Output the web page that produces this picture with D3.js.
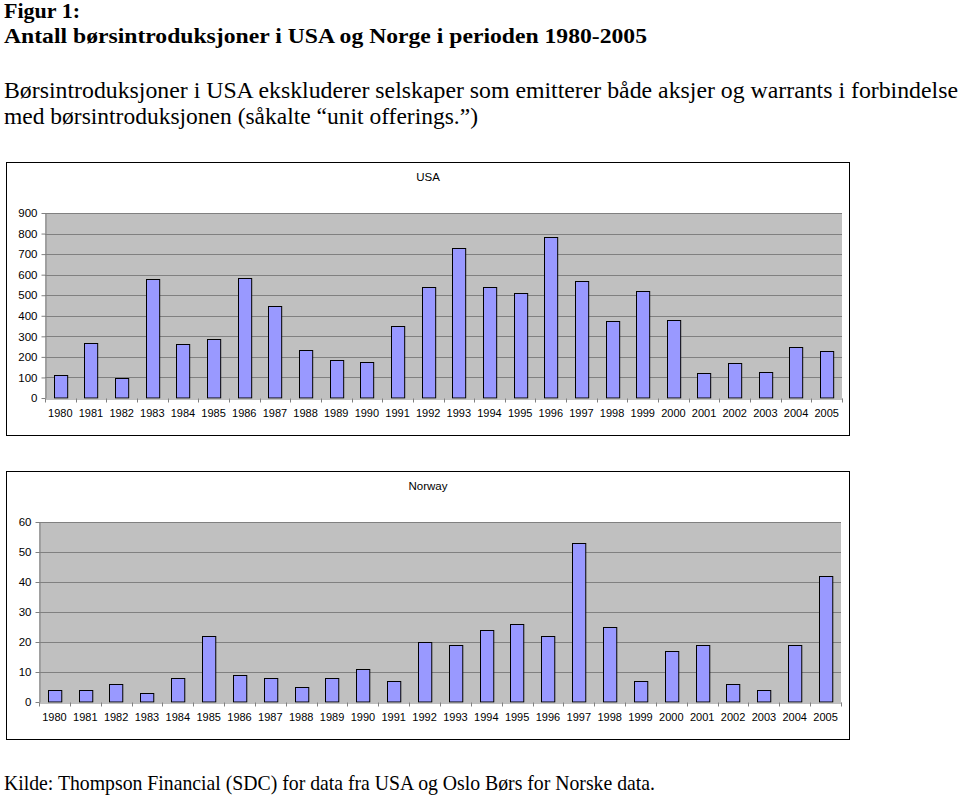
<!DOCTYPE html>
<html>
<head>
<meta charset="utf-8">
<script src="https://cdn.jsdelivr.net/npm/d3@7"></script>
<style>
  body { margin: 0; background: #fff; }
  svg { display: block; }
</style>
</head>
<body>
<script>
// data
const years = ["1980","1981","1982","1983","1984","1985","1986","1987","1988","1989","1990","1991","1992",
  "1993","1994","1995","1996","1997","1998","1999","2000","2001","2002","2003","2004","2005"];
const usaValues = [110, 269, 99, 577, 261, 287, 585, 449, 235, 185, 177, 349, 540,
  728, 540, 509, 785, 571, 373, 522, 378, 120, 169, 128, 247, 230];
const norwayValues = [4, 4, 6, 3, 8, 22, 9, 8, 5, 8, 11, 7, 20,
  19, 24, 26, 22, 53, 25, 7, 17, 19, 6, 4, 19, 42];
const usaTicks = [0, 100, 200, 300, 400, 500, 600, 700, 800, 900];
const norwayTicks = [0, 10, 20, 30, 40, 50, 60];

const svg = d3.select("body").append("svg")
  .attr("width", 960)
  .attr("height", 797);

// header text
const serif = "'Liberation Serif', 'Times New Roman', serif";
svg.append("text").attr("x", 4).attr("y", 18)
  .attr("font-family", serif).attr("font-weight", "bold").attr("font-size", 20.5)
  .attr("textLength", 76).attr("lengthAdjust", "spacingAndGlyphs")
  .text("Figur 1:");
svg.append("text").attr("x", 4).attr("y", 43)
  .attr("font-family", serif).attr("font-weight", "bold").attr("font-size", 22)
  .attr("textLength", 643).attr("lengthAdjust", "spacingAndGlyphs")
  .text("Antall børsintroduksjoner i USA og Norge i perioden 1980-2005");
svg.append("text").attr("x", 4).attr("y", 98)
  .attr("font-family", serif).attr("font-size", 22.5)
  .attr("textLength", 954).attr("lengthAdjust", "spacingAndGlyphs")
  .text("Børsintroduksjoner i USA ekskluderer  selskaper som emitterer både aksjer og warrants i forbindelse");
svg.append("text").attr("x", 4).attr("y", 124)
  .attr("font-family", serif).attr("font-size", 22.5)
  .attr("textLength", 474).attr("lengthAdjust", "spacingAndGlyphs")
  .text("med børsintroduksjonen (såkalte \u201cunit offerings.\u201d)");
svg.append("text").attr("x", 4).attr("y", 790)
  .attr("font-family", serif).attr("font-size", 21.5)
  .attr("textLength", 651).attr("lengthAdjust", "spacingAndGlyphs")
  .text("Kilde: Thompson Financial (SDC) for data fra USA og Oslo Børs for Norske data.");

function drawChart(opt) {
  const g = svg.append("g");
  const sans = "'Liberation Sans', Arial, sans-serif";

  // outer frame
  g.append("rect")
    .attr("x", opt.box[0] + 0.5).attr("y", opt.box[1] + 0.5)
    .attr("width", opt.box[2]).attr("height", opt.box[3])
    .attr("fill", "#fff").attr("stroke", "#000").attr("stroke-width", 1);

  g.append("text")
    .attr("x", 428).attr("y", opt.titleY)
    .attr("text-anchor", "middle")
    .attr("font-family", sans).attr("font-size", 11.5)
    .text(opt.title);

  const x = d3.scaleBand()
    .domain(years)
    .range([opt.left, opt.right])
    .paddingInner(0.57)
    .paddingOuter(0.285);

  const y = d3.scaleLinear()
    .domain([0, opt.max])
    .range([opt.bottom, opt.top]);

  // plot area
  g.append("rect")
    .attr("x", opt.left).attr("y", opt.top)
    .attr("width", opt.right - opt.left).attr("height", opt.bottom - opt.top)
    .attr("fill", "#c0c0c0");

  // gridlines
  g.selectAll(".grid")
    .data(opt.ticks.filter(d => d > 0))
    .enter().append("line")
    .attr("x1", opt.left).attr("x2", opt.right)
    .attr("y1", d => Math.round(y(d)) + 0.5).attr("y2", d => Math.round(y(d)) + 0.5)
    .attr("stroke", "#808080").attr("stroke-width", 1);

  // bars
  g.selectAll(".bar")
    .data(opt.values)
    .enter().append("rect")
    .attr("x", (d, i) => Math.round(x(years[i])) + 0.5)
    .attr("y", d => Math.round(y(d)) + 0.5)
    .attr("width", x.bandwidth())
    .attr("height", d => opt.bottom - Math.round(y(d)) - 0.5)
    .attr("fill", "#9999ff")
    .attr("stroke", "#000")
    .attr("stroke-width", 1);

  // y axis
  const yAxis = g.append("g")
    .attr("transform", `translate(${opt.left + 0.5},0)`)
    .call(d3.axisLeft(y).tickValues(opt.ticks).tickSize(4).tickSizeOuter(0).tickPadding(4));
  yAxis.select(".domain").attr("stroke", "#808080");
  yAxis.selectAll(".tick line").attr("stroke", "#808080");
  yAxis.selectAll("text").attr("font-family", sans).attr("font-size", 11.5).attr("fill", "#000");

  // x axis: labels from the band scale, ticks at category borders
  const xAxis = g.append("g")
    .attr("transform", `translate(0,${opt.bottom + 0.5})`)
    .call(d3.axisBottom(x).tickSize(0).tickSizeOuter(0).tickPadding(11));
  xAxis.select(".domain").attr("stroke", "#808080");
  xAxis.selectAll("text").attr("font-family", sans).attr("font-size", 11).attr("fill", "#000");

  const gap = (x.step() - x.bandwidth()) / 2;
  const borders = years.map(d => x(d) - gap).concat([x(years[years.length - 1]) + x.bandwidth() + gap]);
  xAxis.selectAll(".border")
    .data(borders)
    .enter().append("line")
    .attr("x1", d => Math.round(d) + 0.5).attr("x2", d => Math.round(d) + 0.5)
    .attr("y1", 0).attr("y2", 4)
    .attr("stroke", "#808080");
}

drawChart({
  box: [6, 162, 843, 273],
  title: "USA", titleY: 181,
  left: 45, right: 842, top: 213, bottom: 398,
  max: 900, ticks: usaTicks, values: usaValues
});

drawChart({
  box: [6, 471, 843, 268],
  title: "Norway", titleY: 490,
  left: 39, right: 841, top: 522, bottom: 702,
  max: 60, ticks: norwayTicks, values: norwayValues
});
</script>
</body>
</html>
